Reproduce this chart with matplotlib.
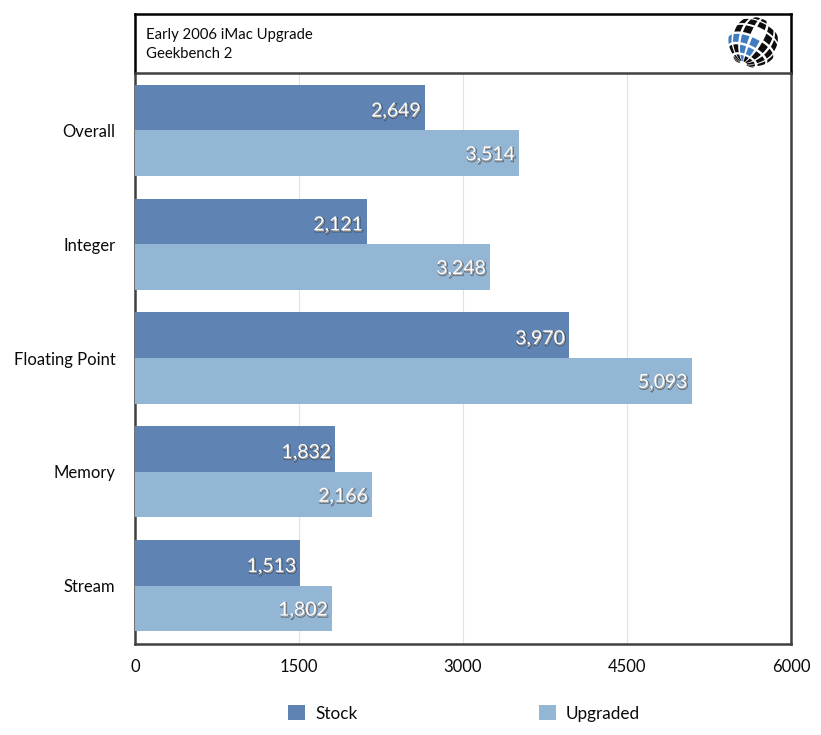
import numpy as np
import matplotlib
matplotlib.use("Agg")
import matplotlib.pyplot as plt
import matplotlib.patheffects as pe
from matplotlib.patches import Polygon

plt.rcParams['font.family'] = ['Lato', 'DejaVu Sans']

categories = ["Overall", "Integer", "Floating Point", "Memory", "Stream"]
stock = [2649, 2121, 3970, 1832, 1513]
upgraded = [3514, 3248, 5093, 2166, 1802]
series_names = ["Stock", "Upgraded"]
x_ticks = [0, 1500, 3000, 4500, 6000]
title_lines = ["Early 2006 iMac Upgrade", "Geekbench 2"]

W, H = 821, 735
C_STOCK = "#5F83B2"
C_UPG = "#94B6D5"
DARK = "#404040"


def box(l, t, r, b):
    return [l / W, 1 - b / H, (r - l) / W, (b - t) / H]


fig = plt.figure(figsize=(W / 100, H / 100), dpi=100, facecolor="white")

# main plot
ax = fig.add_axes(box(135, 72.5, 791, 644))
y = np.arange(len(categories))
h = 0.4
ax.barh(y - h / 2, stock, height=h, color=C_STOCK, zorder=3, label=series_names[0])
ax.barh(y + h / 2, upgraded, height=h, color=C_UPG, zorder=3, label=series_names[1])
ax.set_xlim(0, 6000)
ax.set_ylim(4.512, -0.508)
ax.set_xticks(x_ticks)
ax.set_yticks(y)
ax.set_yticklabels(categories)
ax.tick_params(axis="both", length=0, labelsize=12, labelcolor="#0A0A0A")
ax.tick_params(axis="x", pad=11)
ax.tick_params(axis="y", pad=14)
ax.grid(axis="x", color="#E2E2E2", lw=0.8, zorder=0)
for s in ("left", "bottom", "right"):
    ax.spines[s].set_color(DARK)
    ax.spines[s].set_linewidth(1.8)
ax.spines["top"].set_visible(False)

for vals, off, dy in ((stock, -h / 2, -2.5), (upgraded, h / 2, -1.2)):
    for i, v in enumerate(vals):
        ax.annotate(f"{v:,}", (v, i + off), xytext=(-3, dy), textcoords="offset points",
                    ha="right", va="center", color="white", fontsize=14, zorder=5,
                    path_effects=[pe.Stroke(offset=(0.7, -0.9), linewidth=1.1,
                                            foreground=(0, 0, 0, 0.4)),
                                  pe.Normal()])

fig.legend(loc="lower left", bbox_to_anchor=(273 / W, 1 - 737 / H), ncols=2, frameon=False,
           fontsize=12.3, handlelength=1.0, handleheight=1.0, handletextpad=0.6,
           columnspacing=10.58, labelcolor="#0A0A0A")

# title box
tx = fig.add_axes(box(135, 14, 791, 72.5))
tx.set_xticks([])
tx.set_yticks([])
for s in tx.spines.values():
    s.set_color("black")
    s.set_linewidth(1.8)
tx.spines["bottom"].set_color(DARK)
fig.text(146 / W, 1 - 35 / H, title_lines[0], fontsize=10.7, va="center", color="#0A0A0A")
fig.text(146 / W, 1 - 54.5 / H, title_lines[1], fontsize=10.7, va="center", color="#0A0A0A")

# globe logo
lg = fig.add_axes(box(725, 14.5, 781, 70.5))
lg.set_xlim(-28, 28)
lg.set_ylim(-28, 28)
lg.axis("off")
R = 25.5
tilt = np.radians(-25)
spin = np.radians(-10)
roll = np.radians(-25)


def proj(lat, lon):
    x = np.cos(lat) * np.sin(lon + spin)
    yy = np.sin(lat)
    z = np.cos(lat) * np.cos(lon + spin)
    y2 = yy * np.cos(tilt) - z * np.sin(tilt)
    z2 = yy * np.sin(tilt) + z * np.cos(tilt)
    xr = x * np.cos(roll) - y2 * np.sin(roll)
    yr = x * np.sin(roll) + y2 * np.cos(roll)
    return R * xr, R * yr, z2


lat_edges = np.radians(np.arange(-84, 85, 24))
lon_edges = np.radians(np.arange(-130, 131, 26))
for a in range(len(lat_edges) - 1):
    for b in range(len(lon_edges) - 1):
        la = np.linspace(lat_edges[a] + 0.05, lat_edges[a + 1] - 0.05, 5)
        lo = np.linspace(lon_edges[b] + 0.06, lon_edges[b + 1] - 0.06, 5)
        lats = np.r_[la, np.full(5, la[-1]), la[::-1], np.full(5, la[0])]
        lons = np.r_[np.full(5, lo[0]), lo, np.full(5, lo[-1]), lo[::-1]]
        px, py, pz = proj(lats, lons)
        if pz.min() < 0.05:
            continue
        cx, cy = px.mean(), py.mean()
        if np.hypot(cx - 3, cy - 11) < 7.5:
            continue
        t = np.clip(((cx + 17) * 20 + (cy - 3) * (-10)) / 500, 0, 1)
        band = np.hypot(cx - (-17 + 20 * t), cy - (3 - 10 * t))
        col = "#3F7CC0" if (band < 6 or np.hypot(cx + 10, cy + 12) < 4) else "#0D0D0D"
        lg.add_patch(Polygon(np.c_[px, py], closed=True, facecolor=col, edgecolor="none"))

fig.savefig("out.png", dpi=100, facecolor="white")
